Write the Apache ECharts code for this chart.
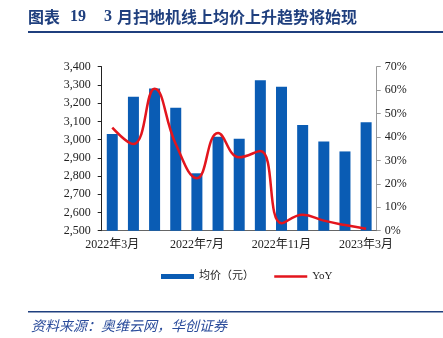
<!DOCTYPE html>
<html><head><meta charset="utf-8">
<style>html,body{margin:0;padding:0;background:#fff}#c{width:443px;height:338px}</style>
<script src="https://cdn.jsdelivr.net/npm/echarts@6/dist/echarts.min.js"></script>
</head><body><div id="c"></div>
<script>
var categories = ['2022年3月','2022年4月','2022年5月','2022年6月','2022年7月','2022年8月','2022年9月','2022年10月','2022年11月','2022年12月','2023年1月','2023年2月','2023年3月'];
var avgPrice = [3030,3235,3280,3175,2815,3015,3005,3325,3290,3080,2990,2935,3095];
var yoy = [44,37,60.6,37,22.4,41.7,31.3,34,3.2,6.8,4.3,2.4,0.8];
var seriesNames = ['均价（元）','YoY'];

var serif = '"Liberation Serif","Times New Roman","Noto Sans CJK SC",serif';
var chart = echarts.init(document.getElementById('c'), null, {renderer:'canvas'});
var titleColor = '#1F3F7E';
chart.setOption({
  animation:false,
  grid:{left:101.7,right:66.3,top:66.7,bottom:107.3,containLabel:false},
  legend:{
    left:156, top:266, itemWidth:33, itemHeight:5, itemGap:19,
    textStyle:{fontFamily:serif,fontSize:11,color:'#222'},
    data:[{name:seriesNames[0],icon:'rect'},
          {name:seriesNames[1],itemStyle:{opacity:0,color:'rgba(0,0,0,0)',borderWidth:0},lineStyle:{width:2.5,color:'#E3151D'}}]
  },
  xAxis:{
    type:'category', data:categories, boundaryGap:true,
    axisLine:{lineStyle:{color:'#666',width:1}},
    axisTick:{interval:3,length:4,lineStyle:{color:'#666'}},
    axisLabel:{interval:3,margin:8,fontFamily:serif,fontSize:12,color:'#222'}
  },
  yAxis:[{
    type:'value', min:2500, max:3400, interval:100,
    axisLine:{show:true,lineStyle:{color:'#222'}},
    axisTick:{show:true,length:4,lineStyle:{color:'#222'}},
    splitLine:{show:false},
    axisLabel:{margin:11,fontFamily:serif,fontSize:12,color:'#222',
      formatter:function(v){return v.toLocaleString('en-US');}}
  },{
    type:'value', min:0, max:70, interval:10,
    axisLine:{show:true,lineStyle:{color:'#999'}},
    axisTick:{show:true,length:4,lineStyle:{color:'#999'}},
    splitLine:{show:false},
    axisLabel:{margin:8,fontFamily:serif,fontSize:12,color:'#222',formatter:'{value}%'}
  }],
  series:[{
    name:seriesNames[0], type:'bar', data:avgPrice, barWidth:11,
    itemStyle:{color:'#0A5CB4'}
  },{
    name:seriesNames[1], type:'line', yAxisIndex:1, data:yoy, smooth:0.45,
    symbol:'none', showSymbol:false,
    lineStyle:{color:'#E3151D',width:2.5},
    itemStyle:{color:'#E3151D'}
  }],
  graphic:[
    {type:'text',left:28,top:9,style:{text:'图表',font:'bold 16px "Noto Sans CJK SC"',fill:titleColor}},
    {type:'text',left:70,top:9,style:{text:'19',font:'bold 16px "Liberation Serif"',fill:titleColor}},
    {type:'text',left:104,top:9,style:{text:'3',font:'bold 16px "Liberation Serif"',fill:titleColor}},
    {type:'text',left:117,top:9,style:{text:'月扫地机线上均价上升趋势将始现',font:'bold 16px "Noto Sans CJK SC"',fill:titleColor}},
    {type:'rect',shape:{x:28,y:31,width:415,height:2},style:{fill:titleColor}},
    {type:'rect',shape:{x:28,y:311,width:415,height:1.5},style:{fill:titleColor}},
    {type:'text',left:31,top:319,style:{text:'资料来源：奥维云网，华创证券',font:'italic 14px "Noto Sans CJK SC"',fill:'#2B4C9B'}}
  ]
});
</script></body></html>
